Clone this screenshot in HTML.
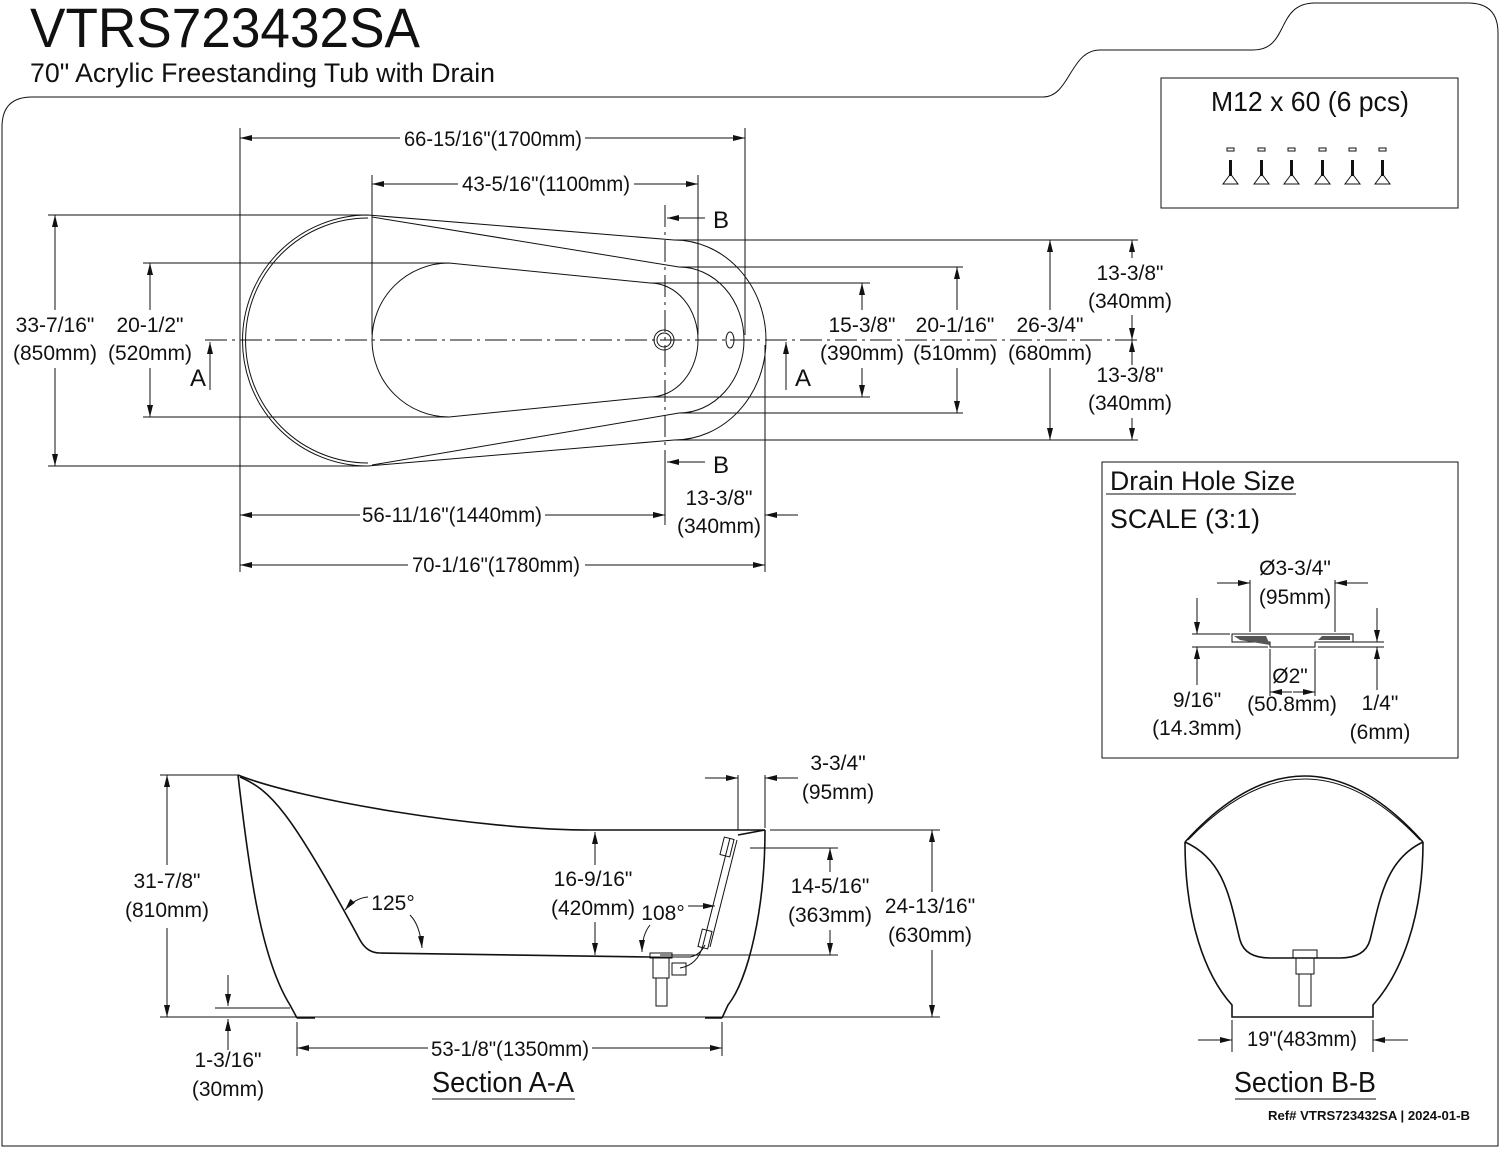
<!DOCTYPE html>
<html><head><meta charset="utf-8"><style>
html,body{margin:0;padding:0;background:#fff}
svg{display:block}
text{font-family:"Liberation Sans Narrow","Liberation Sans",sans-serif;font-size:21px;fill:#111;text-anchor:middle}
.s{stroke:#111;stroke-width:1;fill:none}
.k{stroke:#111;stroke-width:1.6;fill:none}
</style></head><body>
<svg width="1500" height="1150" viewBox="0 0 1500 1150" xmlns="http://www.w3.org/2000/svg">
<defs>
<marker id="a" viewBox="0 0 12 6" refX="12" refY="3" markerWidth="12" markerHeight="6" markerUnits="userSpaceOnUse" orient="auto"><path d="M0,0 L12,3 L0,6 z" fill="#111"/></marker>
</defs>

<path class="s" d="M2,1146 L2,127 Q2,97 32,97 L1043,97 C1070,97 1070,50 1100,50 L1253,50 C1290,50 1275,3 1315,3 L1468,3 Q1498,3 1498,33 L1498,1146 Z"/>

<text x="30" y="47" style="text-anchor:start;font-size:56px" textLength="390" lengthAdjust="spacingAndGlyphs">VTRS723432SA</text>
<text x="30" y="82" style="text-anchor:start;font-size:27px" textLength="465" lengthAdjust="spacingAndGlyphs">70" Acrylic Freestanding Tub with Drain</text>

<rect class="s" x="1161" y="78" width="297" height="130"/>
<text x="1310" y="111" style="font-size:28px" textLength="198" lengthAdjust="spacingAndGlyphs">M12 x 60 (6 pcs)</text>
<g id="scr">
<rect x="1227" y="148" width="7" height="3" class="s"/>
<rect x="1229" y="160" width="3" height="16" fill="#111"/>
<path d="M1230.5,174 L1223,184 L1238,184 Z" class="s"/>
</g>
<use href="#scr" x="31"/><use href="#scr" x="61"/><use href="#scr" x="92"/><use href="#scr" x="122"/><use href="#scr" x="152"/>

<rect class="s" x="1102" y="462" width="356" height="296"/>
<text x="1110" y="490" style="text-anchor:start;font-size:27px" textLength="185" lengthAdjust="spacingAndGlyphs">Drain Hole Size</text>
<line class="s" x1="1106" y1="494" x2="1296" y2="494"/>
<text x="1110" y="528" style="text-anchor:start;font-size:27px" textLength="150" lengthAdjust="spacingAndGlyphs">SCALE (3:1)</text>
<path class="s" d="M1232,634 L1353,634 L1353,642 L1315,642 L1315,647 L1270,647 L1270,642 L1232,642 Z"/>
<path d="M1234,636 L1266,636 L1270,645 L1240,640 Z M1318,640 L1322,636 L1350,636 L1350,640 Z" fill="#555"/>
<line class="s" x1="1192" y1="634" x2="1230" y2="634"/><line class="s" x1="1192" y1="647" x2="1268" y2="647"/>
<line class="s" x1="1318" y1="642" x2="1384" y2="642"/><line class="s" x1="1318" y1="647" x2="1384" y2="647"/>
<line class="s" x1="1250" y1="580" x2="1250" y2="632"/><line class="s" x1="1335" y1="580" x2="1335" y2="632"/>
<line class="s" x1="1217" y1="583" x2="1250" y2="583" marker-end="url(#a)"/><line class="s" x1="1368" y1="583" x2="1335" y2="583" marker-end="url(#a)"/>
<text x="1295" y="575">Ø3-3/4"</text><text x="1295" y="604">(95mm)</text>
<line class="s" x1="1197" y1="598" x2="1197" y2="634" marker-end="url(#a)"/><line class="s" x1="1197" y1="685" x2="1197" y2="647" marker-end="url(#a)"/>
<line class="s" x1="1377" y1="608" x2="1377" y2="642" marker-end="url(#a)"/><line class="s" x1="1377" y1="690" x2="1377" y2="647" marker-end="url(#a)"/>
<line class="s" x1="1270" y1="649" x2="1270" y2="696"/><line class="s" x1="1315" y1="649" x2="1315" y2="696"/>
<line class="s" x1="1292" y1="692" x2="1270" y2="692" marker-end="url(#a)"/><line class="s" x1="1293" y1="692" x2="1315" y2="692" marker-end="url(#a)"/>
<text x="1290" y="683">Ø2"</text><text x="1292" y="711">(50.8mm)</text>
<text x="1197" y="707">9/16"</text><text x="1197" y="735">(14.3mm)</text>
<text x="1380" y="710">1/4"</text><text x="1380" y="739">(6mm)</text>

<!-- PLAN VIEW -->
<path class="s" d="M368,215 A125,125 0 0 0 368,466 L674,440 A92,100 0 0 0 674,240 Z"/>
<path class="s" d="M368,218 A122,122 0 0 0 368,463"/>
<path class="s" d="M372,217 L679,267 A65,73 0 0 1 679,413 L372,465"/>
<path class="s" d="M449,263 A77,77 0 0 0 449,417 L650,397 A48,57 0 0 0 650,283 Z"/>
<circle class="s" cx="664" cy="340" r="10"/><circle class="s" cx="664" cy="340" r="7"/>
<ellipse class="s" cx="730" cy="340" rx="4" ry="8"/>
<line class="s" x1="205" y1="340" x2="1138" y2="340" stroke-dasharray="22,5,3,5"/>
<line class="s" x1="665" y1="205" x2="665" y2="470" stroke-dasharray="22,5,3,5"/>
<line class="s" x1="240" y1="128" x2="240" y2="572"/>
<line class="s" x1="745" y1="128" x2="745" y2="335"/>
<line class="s" x1="372" y1="175" x2="372" y2="335"/>
<line class="s" x1="698" y1="175" x2="698" y2="335"/>
<line class="s" x1="765" y1="345" x2="765" y2="572"/>
<line class="s" x1="665" y1="470" x2="665" y2="525"/>
<line class="s" x1="48" y1="215" x2="368" y2="215"/><line class="s" x1="48" y1="466" x2="368" y2="466"/>
<line class="s" x1="143" y1="263" x2="449" y2="263"/><line class="s" x1="143" y1="417" x2="449" y2="417"/>
<line class="s" x1="650" y1="283" x2="870" y2="283"/><line class="s" x1="650" y1="397" x2="870" y2="397"/>
<line class="s" x1="679" y1="267" x2="963" y2="267"/><line class="s" x1="679" y1="413" x2="963" y2="413"/>
<line class="s" x1="674" y1="240" x2="1138" y2="240"/><line class="s" x1="674" y1="440" x2="1138" y2="440"/>
<line class="s" x1="400" y1="138" x2="240" y2="138" marker-end="url(#a)"/><line class="s" x1="585" y1="138" x2="745" y2="138" marker-end="url(#a)"/>
<text x="493" y="146" textLength="178" lengthAdjust="spacingAndGlyphs">66-15/16"(1700mm)</text>
<line class="s" x1="458" y1="184" x2="372" y2="184" marker-end="url(#a)"/><line class="s" x1="634" y1="184" x2="698" y2="184" marker-end="url(#a)"/>
<text x="546" y="191" textLength="168" lengthAdjust="spacingAndGlyphs">43-5/16"(1100mm)</text>
<line class="s" x1="705" y1="218" x2="667" y2="218" marker-end="url(#a)"/><text x="721" y="228" style="font-size:24px">B</text>
<line class="s" x1="705" y1="462" x2="667" y2="462" marker-end="url(#a)"/><text x="721" y="473" style="font-size:24px">B</text>
<line class="s" x1="210" y1="390" x2="210" y2="342" marker-end="url(#a)"/><text x="198" y="386" style="font-size:24px">A</text>
<line class="s" x1="786" y1="390" x2="786" y2="342" marker-end="url(#a)"/><text x="803" y="386" style="font-size:24px">A</text>
<line class="s" x1="55" y1="310" x2="55" y2="215" marker-end="url(#a)"/><line class="s" x1="55" y1="368" x2="55" y2="466" marker-end="url(#a)"/>
<text x="55" y="332">33-7/16"</text><text x="55" y="360">(850mm)</text>
<line class="s" x1="150" y1="310" x2="150" y2="263" marker-end="url(#a)"/><line class="s" x1="150" y1="368" x2="150" y2="417" marker-end="url(#a)"/>
<text x="150" y="332">20-1/2"</text><text x="150" y="360">(520mm)</text>
<line class="s" x1="862" y1="310" x2="862" y2="283" marker-end="url(#a)"/><line class="s" x1="862" y1="368" x2="862" y2="397" marker-end="url(#a)"/>
<text x="862" y="332">15-3/8"</text><text x="862" y="360">(390mm)</text>
<line class="s" x1="957" y1="310" x2="957" y2="267" marker-end="url(#a)"/><line class="s" x1="957" y1="368" x2="957" y2="413" marker-end="url(#a)"/>
<text x="955" y="332">20-1/16"</text><text x="955" y="360">(510mm)</text>
<line class="s" x1="1050" y1="310" x2="1050" y2="240" marker-end="url(#a)"/><line class="s" x1="1050" y1="368" x2="1050" y2="440" marker-end="url(#a)"/>
<text x="1050" y="332">26-3/4"</text><text x="1050" y="360">(680mm)</text>
<line class="s" x1="1132" y1="258" x2="1132" y2="240" marker-end="url(#a)"/><line class="s" x1="1132" y1="315" x2="1132" y2="340" marker-end="url(#a)"/>
<line class="s" x1="1132" y1="365" x2="1132" y2="340" marker-end="url(#a)"/><line class="s" x1="1132" y1="418" x2="1132" y2="440" marker-end="url(#a)"/>
<text x="1130" y="280">13-3/8"</text><text x="1130" y="308">(340mm)</text>
<text x="1130" y="382">13-3/8"</text><text x="1130" y="410">(340mm)</text>
<line class="s" x1="360" y1="515" x2="240" y2="515" marker-end="url(#a)"/><line class="s" x1="545" y1="515" x2="665" y2="515" marker-end="url(#a)"/>
<text x="452" y="522" textLength="180" lengthAdjust="spacingAndGlyphs">56-11/16"(1440mm)</text>
<line class="s" x1="640" y1="515" x2="665" y2="515" marker-end="url(#a)"/><line class="s" x1="798" y1="515" x2="765" y2="515" marker-end="url(#a)"/>
<text x="719" y="505">13-3/8"</text><text x="719" y="533">(340mm)</text>
<line class="s" x1="408" y1="565" x2="240" y2="565" marker-end="url(#a)"/><line class="s" x1="585" y1="565" x2="765" y2="565" marker-end="url(#a)"/>
<text x="496" y="572" textLength="168" lengthAdjust="spacingAndGlyphs">70-1/16"(1780mm)</text>

<!-- SECTION A-A -->
<path class="k" d="M238,775 C300,800 480,830 590,830 L765,830"/>
<path class="k" d="M238,775 C250,880 262,960 290,1005 L297,1018"/>
<path class="k" d="M240,777 C270,790 290,810 360,940 Q367,953 380,953 L650,957"/>
<path class="k" d="M765,830 C765,910 748,980 728,1005 L722,1018"/>
<path class="k" d="M765,830 L738,835"/>
<path class="s" d="M650,957 L690,957 Q700,955 705,945"/>
<path class="s" d="M160,1017 L940,1017"/>
<path class="k" d="M297,1018 L315,1018 M705,1018 L722,1018"/>
<path class="s" d="M730,838 L703,945 M737,840 L710,947"/>
<rect x="722" y="838" width="10" height="18" class="s" transform="rotate(14 727 847)"/>
<rect x="700" y="930" width="10" height="18" class="s" transform="rotate(14 705 939)"/>
<path class="s" d="M703,945 Q698,965 680,968"/>
<rect class="s" x="650" y="953" width="22" height="5"/>
<rect class="s" x="653" y="958" width="16" height="20"/>
<rect class="s" x="656" y="978" width="11" height="28"/>
<rect class="s" x="672" y="963" width="14" height="12"/>
<line class="s" x1="160" y1="775" x2="238" y2="775"/>
<line class="s" x1="167" y1="865" x2="167" y2="775" marker-end="url(#a)"/><line class="s" x1="167" y1="928" x2="167" y2="1017" marker-end="url(#a)"/>
<text x="167" y="888">31-7/8"</text><text x="167" y="917">(810mm)</text>
<line class="s" x1="215" y1="1008" x2="290" y2="1008"/>
<line class="s" x1="228" y1="975" x2="228" y2="1006" marker-end="url(#a)"/><line class="s" x1="228" y1="1050" x2="228" y2="1019" marker-end="url(#a)"/>
<text x="228" y="1067">1-3/16"</text><text x="228" y="1096">(30mm)</text>
<line class="s" x1="297" y1="1022" x2="297" y2="1056"/><line class="s" x1="722" y1="1022" x2="722" y2="1056"/>
<line class="s" x1="428" y1="1048" x2="297" y2="1048" marker-end="url(#a)"/><line class="s" x1="592" y1="1048" x2="722" y2="1048" marker-end="url(#a)"/>
<text x="510" y="1056" textLength="158" lengthAdjust="spacingAndGlyphs">53-1/8"(1350mm)</text>
<text x="503" y="1092" style="font-size:29px" textLength="142" lengthAdjust="spacingAndGlyphs">Section A-A</text>
<line class="s" x1="432" y1="1099" x2="575" y2="1099"/>
<line class="s" x1="595" y1="865" x2="595" y2="832" marker-end="url(#a)"/><line class="s" x1="595" y1="922" x2="595" y2="955" marker-end="url(#a)"/>
<text x="593" y="886">16-9/16"</text><text x="593" y="915">(420mm)</text>
<text x="393" y="910">125°</text>
<path class="s" d="M368,897 Q355,898 345,910" marker-end="url(#a)"/>
<path class="s" d="M410,915 Q420,925 422,948" marker-end="url(#a)"/>
<text x="663" y="920">108°</text>
<path class="s" d="M650,925 Q642,935 642,952" marker-end="url(#a)"/>
<path class="s" d="M688,906 L715,906" marker-end="url(#a)"/>
<line class="s" x1="738" y1="775" x2="738" y2="830"/><line class="s" x1="765" y1="775" x2="765" y2="828"/>
<line class="s" x1="705" y1="778" x2="738" y2="778" marker-end="url(#a)"/><line class="s" x1="798" y1="778" x2="765" y2="778" marker-end="url(#a)"/>
<text x="838" y="770">3-3/4"</text><text x="838" y="799">(95mm)</text>
<line class="s" x1="750" y1="848" x2="838" y2="848"/><line class="s" x1="660" y1="955" x2="838" y2="955"/>
<line class="s" x1="830" y1="872" x2="830" y2="848" marker-end="url(#a)"/><line class="s" x1="830" y1="930" x2="830" y2="955" marker-end="url(#a)"/>
<text x="830" y="893">14-5/16"</text><text x="830" y="922">(363mm)</text>
<line class="s" x1="770" y1="830" x2="940" y2="830"/>
<line class="s" x1="932" y1="892" x2="932" y2="830" marker-end="url(#a)"/><line class="s" x1="932" y1="950" x2="932" y2="1017" marker-end="url(#a)"/>
<text x="930" y="913">24-13/16"</text><text x="930" y="942">(630mm)</text>

<!-- SECTION B-B -->
<path class="k" d="M1185,842 Q1305,710 1423,842"/>
<path class="s" d="M1188,840 Q1305,718 1420,840"/>
<path class="k" d="M1185,842 C1185,920 1205,975 1232,1005 L1232,1017 L1373,1017 L1373,1005 C1400,975 1423,920 1423,842"/>
<path class="k" d="M1185,842 C1225,860 1230,900 1240,940 Q1245,958 1270,958 L1340,958 Q1365,958 1370,940 C1380,900 1385,860 1423,842"/>
<rect class="s" x="1293" y="950" width="24" height="8"/>
<rect class="s" x="1296" y="958" width="18" height="16"/>
<rect class="s" x="1299" y="974" width="12" height="32"/>
<line class="s" x1="1232" y1="1020" x2="1232" y2="1052"/><line class="s" x1="1373" y1="1020" x2="1373" y2="1052"/>
<line class="s" x1="1198" y1="1040" x2="1232" y2="1040" marker-end="url(#a)"/><line class="s" x1="1408" y1="1040" x2="1373" y2="1040" marker-end="url(#a)"/>
<text x="1302" y="1046" textLength="110" lengthAdjust="spacingAndGlyphs">19"(483mm)</text>
<text x="1305" y="1092" style="font-size:29px" textLength="142" lengthAdjust="spacingAndGlyphs">Section B-B</text>
<line class="s" x1="1235" y1="1099" x2="1376" y2="1099"/>
<text x="1470" y="1120" style="text-anchor:end;font-size:13px;font-weight:bold" textLength="202" lengthAdjust="spacingAndGlyphs">Ref# VTRS723432SA | 2024-01-B</text>
</svg>
</body></html>
